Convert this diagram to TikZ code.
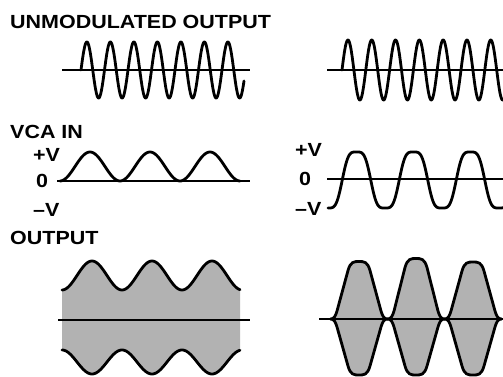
\documentclass[tikz,border=0pt]{standalone}
\usepackage{fontspec}
\setmainfont{Liberation Sans}[FakeStretch=1.13]
\begin{document}
\begin{tikzpicture}[x=1pt,y=-1pt,
  lbl/.style={anchor=base west,inner sep=0pt,font=\fontsize{19}{22}\selectfont\bfseries},
  wave/.style={line width=2.8pt,line join=round,line cap=round},
  axisline/.style={line width=2.4pt},
  shade/.style={fill=black!30},
  declare function={
    gl(\t)=0.5-0.5*cos((\t-62)*6);
  }]
\useasboundingbox (0,0) rectangle (503,377);
\clip (0,0) rectangle (503,377);

% labels
\node[lbl] (tUnmod) at (10,29) {UNMODULATED OUTPUT};
\node[lbl] (tVca) at (10,139) {VCA IN};
\node[lbl] (tPlusL) at (33,161) {+V};
\node[lbl] (tZeroL) at (36,187) {0};
\node[lbl] (tMinusL) at (33,216) {\textendash V};
\node[lbl] (tOut) at (10,244) {OUTPUT};
\node[lbl] (tPlusR) at (295,157) {+V};
\node[lbl] (tZeroR) at (299,185) {0};
\node[lbl] (tMinusR) at (295,215) {\textendash V};

% unmodulated outputs
\draw[axisline] (62,70) -- (250,70);
\draw[wave] plot[domain=81:244,samples=400] ({\x},{70-28*sin((\x-81)*15.319)});
\draw[axisline] (327,70) -- (503,70);
\draw[wave] plot[domain=342:503,samples=400] ({\x},{70-30*sin((\x-342)*15.126)});

% VCA in
\draw[axisline] (57,181) -- (250,181);
\draw[wave] plot[domain=60:240,samples=200] ({\x},{181-29*(0.5-0.5*cos((\x-60)*6))});
\draw[axisline] (327,179) -- (503,179);
\draw[wave] plot[domain=328:503,samples=300] ({\x},{180+28*sin(90*cos((\x-328)*6.3158))});

% output left
\fill[shade] plot[domain=62:240,samples=200] ({\x},{290-29*gl(\x)})
  -- plot[domain=240:62,samples=200] ({\x},{350+24*gl(\x)}) -- cycle;
\draw[axisline] (58,320) -- (250,320);
\draw[wave] plot[domain=62:240,samples=200] ({\x},{290-29*gl(\x)});
\draw[wave] plot[domain=62:240,samples=200] ({\x},{350+24*gl(\x)});

% output right
\foreach \c/\h in {359/57.5,416/60.5,473/57}{
  \def\b{56}
  \filldraw[shade,wave]
    ({\c-28.5},319)
    .. controls ({\c-25},319) and ({\c-23.5},316) .. ({\c-22},311)
    -- ({\c-11},{319-\h+9})
    .. controls ({\c-8.5},{319-\h}) and ({\c-5},{319-\h}) .. (\c,{319-\h})
    .. controls ({\c+5},{319-\h}) and ({\c+8.5},{319-\h}) .. ({\c+11},{319-\h+9})
    -- ({\c+22},311)
    .. controls ({\c+23.5},316) and ({\c+25},319) .. ({\c+28.5},319)
    .. controls ({\c+25},319) and ({\c+23.5},322) .. ({\c+22},327)
    -- ({\c+11},{319+\b-9})
    .. controls ({\c+8.5},{319+\b}) and ({\c+5},{319+\b}) .. (\c,{319+\b})
    .. controls ({\c-5},{319+\b}) and ({\c-8.5},{319+\b}) .. ({\c-11},{319+\b-9})
    -- ({\c-22},327)
    .. controls ({\c-23.5},322) and ({\c-25},319) .. ({\c-28.5},319)
    -- cycle;
}
\draw[axisline] (319,319) -- (503,319);
\end{tikzpicture}
\end{document}
